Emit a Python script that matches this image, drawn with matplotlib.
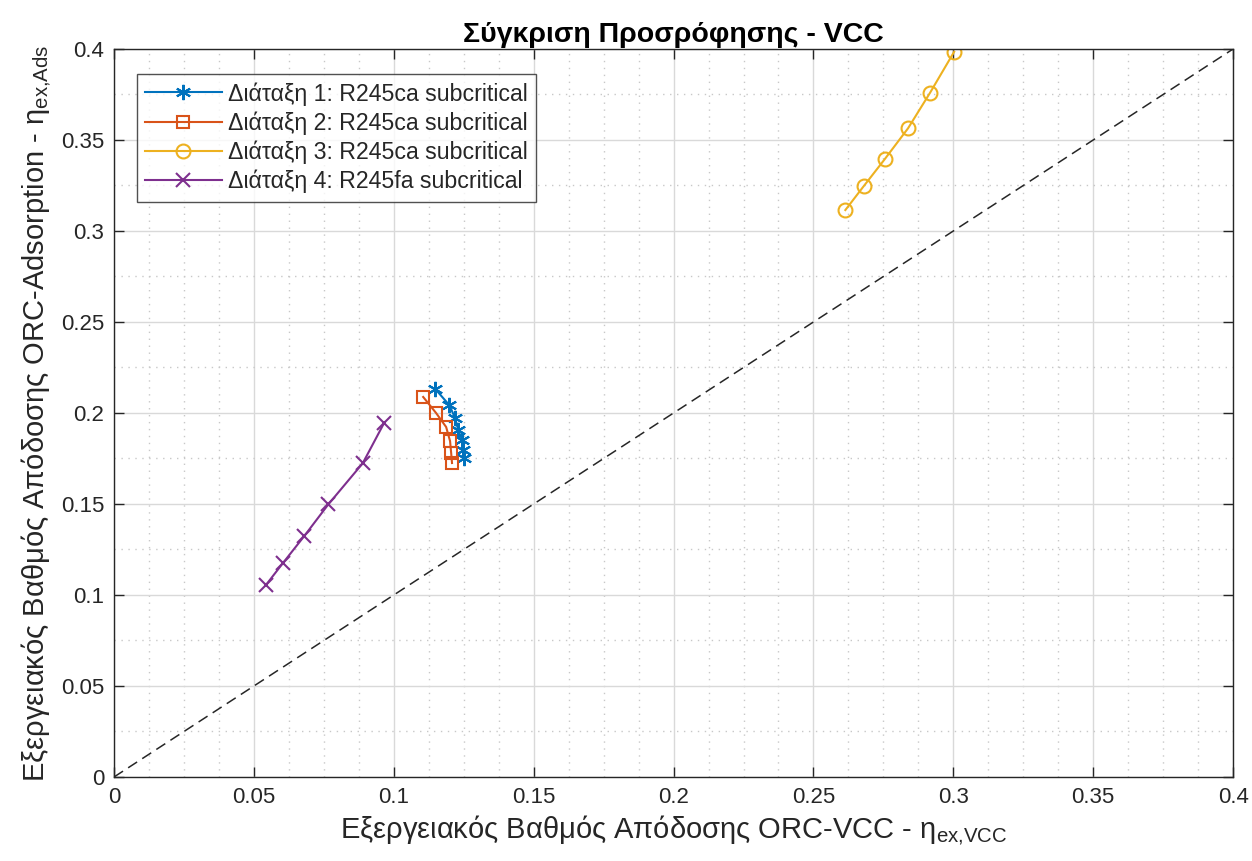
import matplotlib
matplotlib.use("Agg")
import matplotlib.pyplot as plt
from matplotlib.ticker import MultipleLocator

plt.rcParams['font.family'] = ['Liberation Sans', 'DejaVu Sans']
plt.rcParams['mathtext.fontset'] = 'custom'
plt.rcParams['mathtext.rm'] = 'Liberation Sans'
plt.rcParams['mathtext.it'] = 'Liberation Sans'
plt.rcParams['mathtext.default'] = 'regular'

# Exergy efficiencies per configuration (ORC-VCC on x, ORC-Adsorption on y)
eta_vcc_1 = [0.1148, 0.1198, 0.1219, 0.1230, 0.1244, 0.1248, 0.1251]
eta_ads_1 = [0.2132, 0.2044, 0.1973, 0.1907, 0.1852, 0.1797, 0.1753]

eta_vcc_2 = [0.1105, 0.1151, 0.1187, 0.1201, 0.1205, 0.1208]
eta_ads_2 = [0.2088, 0.2000, 0.1923, 0.1846, 0.1780, 0.1725]

eta_vcc_3 = [0.2614, 0.2681, 0.2754, 0.2838, 0.2917, 0.3003]
eta_ads_3 = [0.3115, 0.3249, 0.3393, 0.3564, 0.3760, 0.3985]

eta_vcc_4 = [0.0543, 0.0603, 0.0680, 0.0766, 0.0889, 0.0966]
eta_ads_4 = [0.1055, 0.1174, 0.1324, 0.1498, 0.1724, 0.1947]

labels = ['Διάταξη 1: R245ca subcritical',
          'Διάταξη 2: R245ca subcritical',
          'Διάταξη 3: R245ca subcritical',
          'Διάταξη 4: R245fa subcritical']

tick_values = [0, 0.05, 0.1, 0.15, 0.2, 0.25, 0.3, 0.35, 0.4]
tick_labels = ['0', '0.05', '0.1', '0.15', '0.2', '0.25', '0.3', '0.35', '0.4']

fig = plt.figure(figsize=(12.52, 8.61), dpi=100)
ax = fig.add_axes([0.0911, 0.0976, 0.8938, 0.8455])

ax.plot(eta_vcc_1, eta_ads_1, color='#0072BD', marker=(6, 2, 0), markersize=11,
        markeredgewidth=1.5, linewidth=1.5, label=labels[0])
ax.plot(eta_vcc_2, eta_ads_2, color='#D95319', marker='s', markersize=9,
        markerfacecolor='none', markeredgewidth=1.5, linewidth=1.5, label=labels[1])
ax.plot(eta_vcc_3, eta_ads_3, color='#EDB120', marker='o', markersize=10,
        markerfacecolor='none', markeredgewidth=1.5, linewidth=1.5, label=labels[2])
ax.plot(eta_vcc_4, eta_ads_4, color='#7E2F8E', marker='x', markersize=10,
        markeredgewidth=1.5, linewidth=1.5, label=labels[3])

# Reference line of equal efficiency
ax.plot([0, 0.4], [0, 0.4], color='#262626', linestyle=(0, (7, 4)), linewidth=1.1)

ax.set_xlim(0, 0.4)
ax.set_ylim(0, 0.4)
ax.xaxis.set_minor_locator(MultipleLocator(0.0125))
ax.yaxis.set_minor_locator(MultipleLocator(0.025))
ax.set_xticks(tick_values)
ax.set_xticklabels(tick_labels)
ax.set_yticks(tick_values)
ax.set_yticklabels(tick_labels)

ax.grid(which='major', color='#d9d9d9', linestyle='-', linewidth=1.0)
ax.grid(which='minor', color='#c8c8c8', linestyle=(0, (1, 4)), linewidth=1.0)
ax.set_axisbelow(True)

ax.tick_params(which='both', direction='in', top=True, right=True,
               colors='#262626', labelsize=16, width=1.0)
ax.tick_params(which='major', length=7, pad=7)
ax.tick_params(which='minor', length=0)
for s in ax.spines.values():
    s.set_color('#262626')
    s.set_linewidth(1.0)

ax.set_xlabel('Εξεργειακός Βαθμός Απόδοσης ORC-VCC - η$_{ex{,}VCC}$',
              fontsize=21, color='#262626', labelpad=4)
ax.set_ylabel('Εξεργειακός Βαθμός Απόδοσης ORC-Adsorption - η$_{ex{,}Ads}$',
              fontsize=21, color='#262626', labelpad=6)
ax.set_title('Σύγκριση Προσρόφησης - VCC', fontsize=20.5, fontweight='bold',
             color='#000000', pad=5)

leg = ax.legend(loc='upper left', bbox_to_anchor=(0.0206, 0.9657), fontsize=16.7,
                frameon=True, fancybox=False, edgecolor='#262626',
                borderpad=0.35, labelspacing=0.25, handlelength=3.3,
                handletextpad=0.26, borderaxespad=0)
leg.get_frame().set_linewidth(1.0)
for t in leg.get_texts():
    t.set_color('#262626')

fig.savefig('out.png', dpi=100)
